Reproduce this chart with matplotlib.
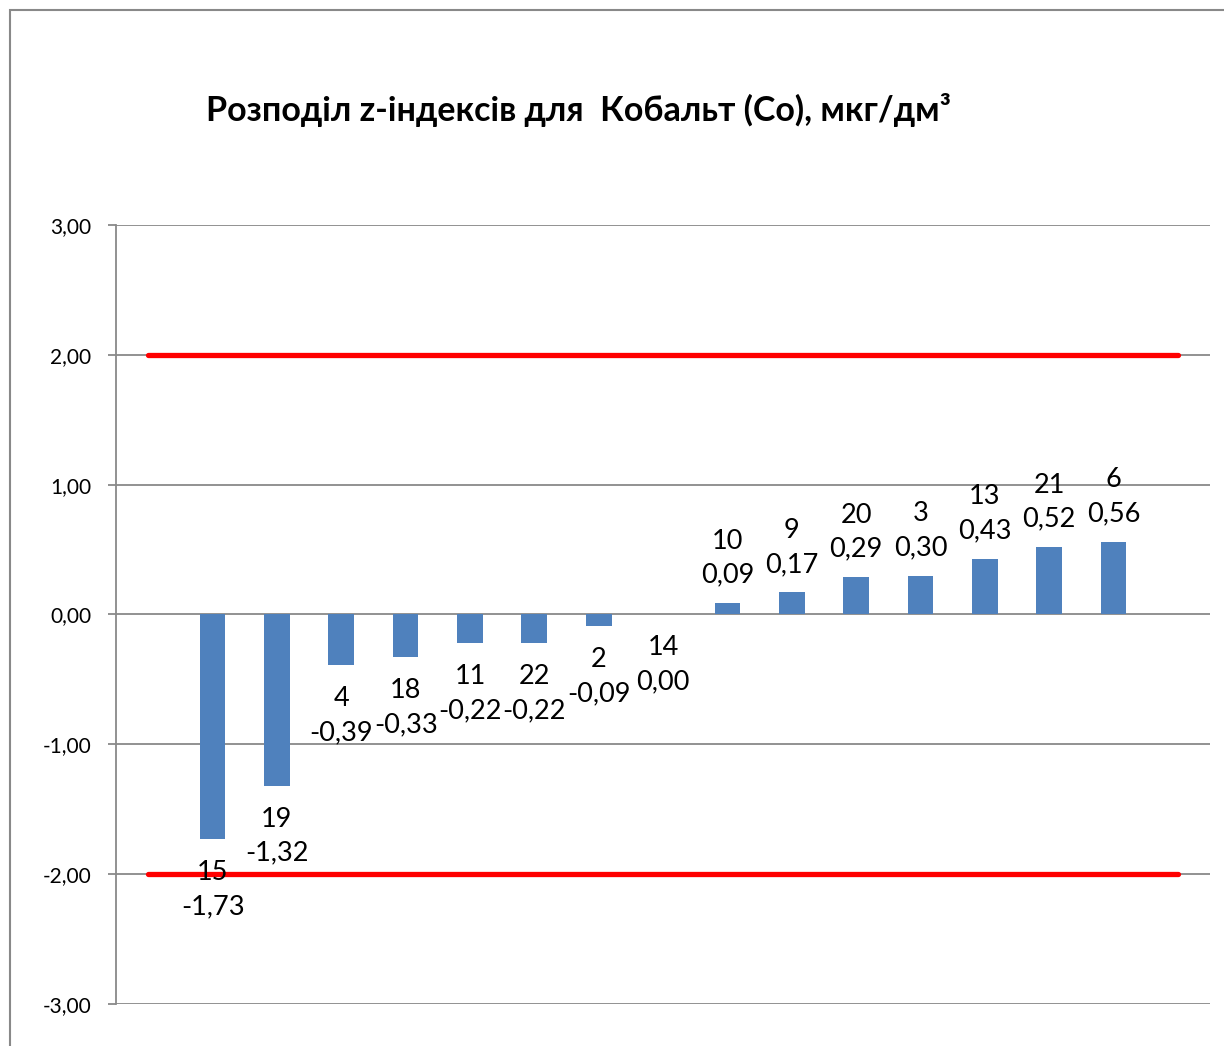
import matplotlib.pyplot as plt
from matplotlib.patches import Rectangle

# Lab codes and z-scores (sorted), first and last slots are empty
labs = ["", "15", "19", "4", "18", "11", "22", "2", "14", "10", "9", "20", "3", "13", "21", "6", ""]
z = [None, -1.73, -1.32, -0.39, -0.33, -0.22, -0.22, -0.09, 0.00,
     0.09, 0.17, 0.29, 0.30, 0.43, 0.52, 0.56, None]
upper = [2.0] * len(labs)
lower = [-2.0] * len(labs)
yticks = [-3, -2, -1, 0, 1, 2, 3]

font = ['Lato', 'DejaVu Sans']

fig = plt.figure(figsize=(12.24, 10.46), dpi=100)
ax = fig.add_axes([0.0948, 0.0402, 0.8938, 0.7447])

x = list(range(len(labs)))
bx = [i for i, v in zip(x, z) if v is not None]
bv = [v for v in z if v is not None]
ax.bar(bx, bv, width=0.4, color='#4F81BD', zorder=3)

ax.plot(x, upper, color='#FF0000', lw=3.8, solid_capstyle='round', zorder=4)
ax.plot(x, lower, color='#FF0000', lw=3.8, solid_capstyle='round', zorder=4)

for i, v in zip(bx, bv):
    txt = f"{labs[i]}\n{v:.2f}".replace('.', ',')
    if v > 0:
        ax.annotate(txt, (i, v), xytext=(0, 11), textcoords='offset points',
                    ha='center', va='bottom', fontsize=19.5, family=font,
                    linespacing=1.45, zorder=5)
    else:
        ax.annotate(txt, (i, v), xytext=(0, -15), textcoords='offset points',
                    ha='center', va='top', fontsize=19.5, family=font,
                    linespacing=1.45, zorder=5)

ax.set_xlim(-0.5, len(labs) - 0.5)
ax.set_ylim(-3, 3)
ax.set_yticks(yticks)
ax.set_yticklabels([f"{t:.2f}".replace('.', ',') for t in yticks],
                   fontsize=15, family=font)
ax.set_xticks([])
ax.grid(axis='y', color='#898989', lw=1.3, zorder=0)
ax.tick_params(axis='y', length=6, width=1.3, color='#898989', pad=12)
for s in ['top', 'right', 'bottom']:
    ax.spines[s].set_visible(False)
ax.spines['left'].set_color('#898989')
ax.spines['left'].set_linewidth(1.3)

fig.text(0.473, 0.895, "Розподіл z-індексів для  Кобальт (Co), мкг/дм³",
         ha='center', va='center', fontsize=24.5, fontweight='bold', family=font)

fig.patches.append(Rectangle((10 / 1224, -0.02), 1.0, 1 - 10 / 1046 + 0.02,
                             transform=fig.transFigure, fill=False,
                             edgecolor='#898989', lw=1.5))

plt.savefig("out.png", dpi=100)
